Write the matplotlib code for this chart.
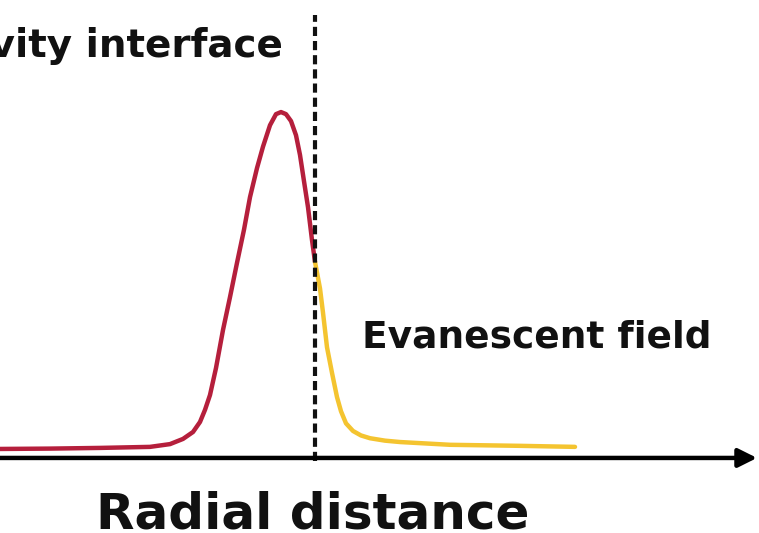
import matplotlib
matplotlib.use("Agg")
import matplotlib.pyplot as plt

plt.rcParams['font.family'] = ['DejaVu Sans']

# field profile inside the cavity (red) and outside (yellow)
# radial distance: interface at 0, intensity: peak = 1
r_in = [-3.15, -2.65, -2.15, -1.65, -1.45, -1.32, -1.22, -1.15, -1.10, -1.05,
        -0.99, -0.92, -0.85, -0.78, -0.71, -0.65, -0.58, -0.52, -0.45, -0.39,
        -0.34, -0.29, -0.24, -0.19, -0.15, -0.11, -0.07, -0.03, 0.0]
i_in = [0.026, 0.027, 0.029, 0.032, 0.040, 0.055, 0.075, 0.104, 0.139, 0.182,
        0.26, 0.37, 0.465, 0.564, 0.66, 0.754, 0.838, 0.90, 0.962, 0.994,
        1.00, 0.994, 0.974, 0.933, 0.876, 0.80, 0.725, 0.63, 0.567]

r_out = [0.0, 0.05, 0.08, 0.12, 0.17, 0.22, 0.26, 0.31, 0.38, 0.46, 0.55, 0.70,
         0.85, 1.35, 2.05, 2.60]
i_out = [0.567, 0.49, 0.42, 0.32, 0.246, 0.176, 0.135, 0.10, 0.078, 0.065, 0.057,
         0.050, 0.046, 0.038, 0.035, 0.032]

red = '#b51f3c'
yellow = '#f4c430'

fig = plt.figure(figsize=(7.59, 5.33), dpi=100)
ax = fig.add_axes([0, 0, 1, 1])
ax.set_xlim(-3.15, 4.44)
ax.set_ylim(-0.217, 1.324)
ax.axis('off')

ax.plot(r_in, i_in, color=red, lw=3.2, solid_capstyle='round', solid_joinstyle='round', zorder=3)
ax.plot(r_out, i_out, color=yellow, lw=3.2, solid_capstyle='round', solid_joinstyle='round', zorder=3)

# interface
ax.plot([0, 0], [-0.01, 1.28], color='#111111', lw=3.0, linestyle=(0, (2.2, 1.2)), zorder=4)

# radial axis arrow
ax.annotate('', xy=(4.42, 0), xytext=(-3.2, 0),
            arrowprops=dict(arrowstyle='-|>', lw=3.2, color='black',
                            mutation_scale=28, shrinkA=0, shrinkB=0), zorder=5)

ax.text(-0.32, 1.16, 'Cavity interface', ha='right', va='baseline',
        fontsize=28, fontweight='bold', color='#111111')
ax.text(0.47, 0.318, 'Evanescent field', ha='left', va='baseline',
        fontsize=27, fontweight='bold', color='#111111')
ax.text(-0.02, -0.203, 'Radial distance', ha='center', va='baseline',
        fontsize=36, fontweight='bold', color='#111111')

fig.savefig('out.png', dpi=100)
